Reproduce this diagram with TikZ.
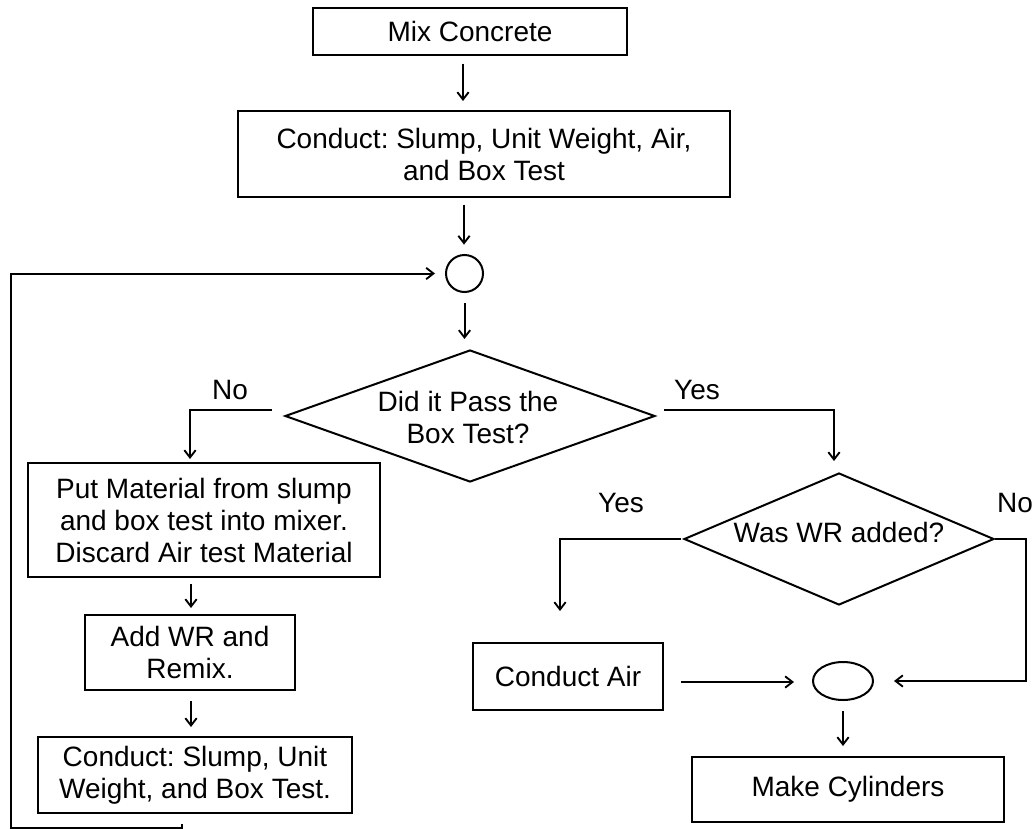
\documentclass[tikz,border=0pt]{standalone}
\usepackage{fontspec}
\setmainfont{Liberation Sans}
\usetikzlibrary{shapes.geometric,arrows.meta,calc}
\begin{document}
\frenchspacing
\begin{tikzpicture}[x=0.75pt,y=-0.75pt,
  every node/.style={font=\fontsize{21pt}{24pt}\selectfont, align=center, inner sep=0pt},
  box/.style={draw, line width=1.5pt, rectangle},
  dia/.style={draw, line width=1.5pt, diamond},
  lbl/.style={},
  arr/.style={line width=1.5pt, -{Straight Barb[length=5.5pt,width=8.5pt,line width=1.4pt]}}]
\useasboundingbox (0,0) rectangle (1034,828);
\node[box, minimum width=235.5pt, minimum height=35.25pt] (mix) at (470,31) {Mix Concrete};
\node[box, minimum width=369pt, minimum height=64.5pt] (cond) at (484,154) {Conduct: Slump, Unit Weight, Air,\\and Box Test};
\node[draw, line width=1.5pt, circle, minimum size=27.75pt] (circ) at (464.5,273.5) {};
\node[dia, minimum width=277.5pt, minimum height=99pt] (d1) at (470,416) {};
\node (d1t) at (468,417) {Did it Pass the\\Box Test?};
\node[dia, minimum width=232.5pt, minimum height=99pt] (d2) at (839,539) {};
\node (d2t) at (839,532) {Was WR added?};
\node[box, minimum width=264pt, minimum height=85.5pt] (b1) at (204,520) {Put Material from slump\\and box test into mixer.\\Discard Air test Material};
\node[box, minimum width=157.5pt, minimum height=56.25pt] (b2) at (190,652.5) {Add WR and\\Remix.};
\node[box, minimum width=235.5pt, minimum height=57pt] (b3) at (195,775) {Conduct: Slump, Unit\\Weight, and Box Test.};
\node[box, minimum width=142.5pt, minimum height=50.25pt] (air) at (568,676.5) {Conduct Air};
\node[draw, line width=1.5pt, ellipse, minimum width=45pt, minimum height=28.5pt] (ell) at (843,681) {};
\node[box, minimum width=234pt, minimum height=48.75pt] (cyl) at (848,789.5) {Make Cylinders};
\node[lbl] (n1) at (230,390) {No};
\node[lbl] (y1) at (697,390) {Yes};
\node[lbl] (y2) at (621,503) {Yes};
\node[lbl] (n2) at (1015,503) {No};
\draw[arr, shorten <=6pt, shorten >=6.75pt] ($(mix.south)+(-7,0)$) -- ($(cond.north)+(-21,0)$);
\draw[arr, shorten <=5pt, shorten >=7pt] ($(cond.south)+(-20,0)$) -- ($(circ.north)+(-0.5,0)$);
\draw[arr, shorten <=7.5pt, shorten >=7.5pt] (circ.south) -- ($(d1.north)+(-5.5,0)$);
\draw[arr] ($(d1.west)+(-12,-6)$) -| ($(b1.north)+(-14,-3)$);
\draw[arr] ($(d1.east)+(8,-6)$) -| ($(d2.north)+(-5,-11)$);
\draw[arr] ($(d2.west)+(-2,0)$) -| ($(air.north)+(-8,-31)$);
\draw[arr] (d2.east) -- ++(31,0) |- ($(ell.east)+(20,0)$);
\draw[arr] ($(air.east)+(17,5.5)$) -- ($(ell.west)+(-18,1)$);
\draw[arr, shorten <=7.5pt, shorten >=7.5pt] (ell.south) -- ($(cyl.north)+(-5,0)$);
\draw[arr] ($(b1.south)+(-13,6)$) -- ($(b2.north)+(1,-6)$);
\draw[arr] ($(b2.south)+(1,10)$) -- ($(b3.north)+(-4,-9)$);
\draw[arr] ($(b3.south)+(-13,10)$) -- ++(0,3.5) -- ++(-171,0) |- ($(circ.west)+(-10,0)$);
\end{tikzpicture}
\end{document}
